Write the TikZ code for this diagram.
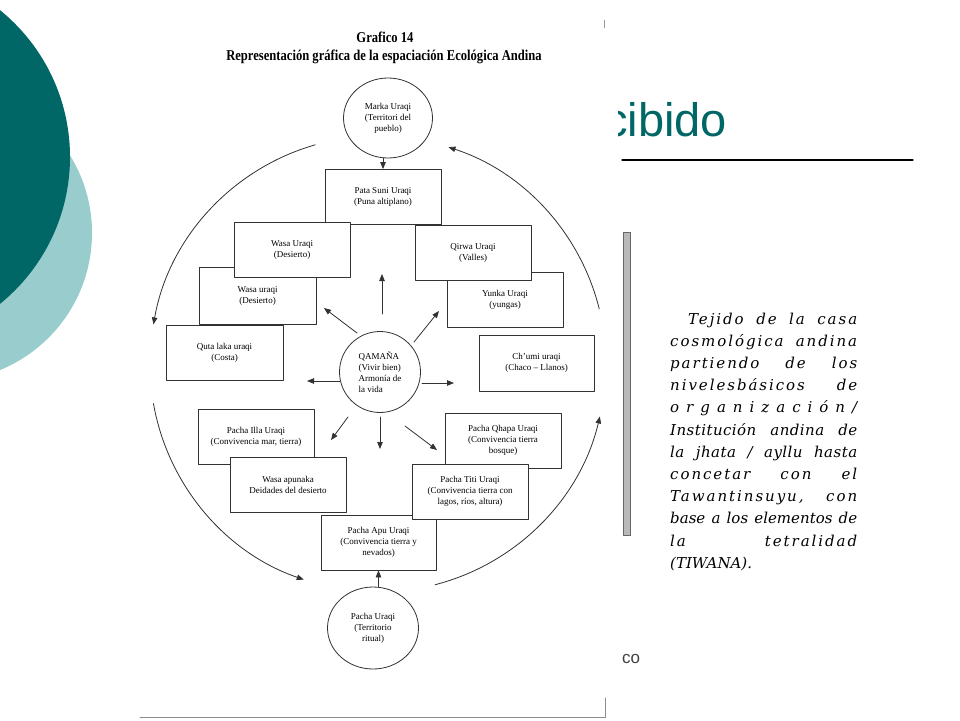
\documentclass[tikz,border=0pt]{standalone}
\usepackage{fontspec}
\usetikzlibrary{arrows.meta,shapes.geometric}
\newfontfamily\escaneo{Liberation Serif}
\newfontfamily\diapo{Liberation Sans}
\newfontfamily\tejido{DejaVu Serif}
\newfontfamily\tejidoancho{DejaVu Serif}[LetterSpace=13]
\newfontfamily\tejidojusto{DejaVu Serif}[LetterSpace=3]
\definecolor{tealoscuro}{RGB}{0,102,102}
\definecolor{tealclaro}{RGB}{153,204,204}
\definecolor{trazo}{RGB}{50,50,50}

\tikzset{
  zona/.style={draw=trazo, fill=white, line width=0.8pt, minimum width=116, minimum height=55,
    align=center, inner sep=1pt, font=\escaneo\fontsize{9}{11}\selectfont},
  lugar/.style={zona, ellipse, minimum width=89, minimum height=80},
  flecha/.style={draw=trazo, line width=0.8pt, -{Triangle[length=7pt,width=5.5pt]}},
  renglon/.style={anchor=base west, inner sep=0pt, text=black,
    font=\tejidoancho\itshape\fontsize{15}{17}\selectfont},
}

\begin{document}
\begin{tikzpicture}[x=1pt,y=-1pt,line cap=round,line join=round]
\useasboundingbox (0,0) rectangle (960,720);
% decoracion de la diapositiva
\fill[tealclaro] (-56,233) circle[radius=148pt];
\fill[tealoscuro] (-119,157) circle[radius=189pt];
\node[anchor=base west, inner sep=0pt, text=tealoscuro, font=\diapo\fontsize{47}{50}\selectfont] (encabezado) at (604,136) {cibido};
\draw[line width=1.2pt] (622,160) -- (913,160);
\node[anchor=base west, inner sep=0pt, text=black!75, font=\diapo\fontsize{17}{20}\selectfont] (pie) at (622,663) {co};
% texto de la derecha
\filldraw[fill=gray!55, draw=black!60] (623,232) rectangle (630,535);
\node[renglon] (r1) at (688,324.0) {\makebox[169pt][s]{Tejido de la casa}};
\node[renglon] (r2) at (670,346.2) {\makebox[187pt][s]{cosmológica andina}};
\node[renglon] (r3) at (670,368.4) {\makebox[187pt][s]{partiendo de los}};
\node[renglon] (r4) at (670,390.6) {\makebox[187pt][s]{nivelesbásicos de}};
\node[renglon, font=\tejido\itshape\fontsize{15}{17}\selectfont] (r5) at (670,412.8) {\makebox[187pt][s]{o r g a n i z a c i ó n /}};
\node[renglon, font=\tejidojusto\itshape\fontsize{15}{17}\selectfont] (r6) at (670,435.0) {\makebox[187pt][s]{Institución andina de}};
\node[renglon, font=\tejidojusto\itshape\fontsize{15}{17}\selectfont] (r7) at (670,457.2) {\makebox[187pt][s]{la jhata / ayllu hasta}};
\node[renglon] (r8) at (670,479.4) {\makebox[187pt][s]{concetar con el}};
\node[renglon] (r9) at (670,501.6) {\makebox[187pt][s]{Tawantinsuyu, con}};
\node[renglon, font=\tejido\itshape\fontsize{15}{17}\selectfont] (r10) at (670,523.8) {\makebox[187pt][s]{base a los elementos de}};
\node[renglon] (r11) at (670,546.0) {\makebox[187pt][s]{la tetralidad}};
\node[renglon, font=\tejido\itshape\fontsize{15}{17}\selectfont] (r12) at (670,568.2) {(TIWANA).};
% hoja escaneada
\fill[white] (140,15) rectangle (618,716);
\draw[black!45, line width=0.8pt] (140,717) -- (605,717) -- (605,698);
\draw[black!40] (604,20) -- (604,28);
\node[font=\escaneo\bfseries\fontsize{15}{17}\selectfont] (titulo) at (385,37) {\scalebox{0.84}[1]{Grafico 14}};
\node[font=\escaneo\bfseries\fontsize{15}{17}\selectfont] (subtitulo) at (384,57) {\scalebox{0.84}[1]{Representación gráfica de la espaciación Ecológica Andina}};
% rueda
\coordinate (rueda) at (378,364);
\foreach \a/\b in {106/170, 14/72, 190/251, 284.5/346.7}
  \draw[flecha] (rueda) ++(\a:228pt) arc[start angle=\a, end angle=\b, radius=228pt];
% pisos ecologicos
\node[zona] (pata) at (383,197) {Pata Suni Uraqi\\(Puna altiplano)};
\node[zona, minimum width=117, minimum height=57] (wasaB) at (257.5,295.5) {Wasa uraqi\\(Desierto)};
\node[zona] (wasaA) at (292,250) {Wasa Uraqi\\(Desierto)};
\node[zona] (yunka) at (505,300) {Yunka Uraqi\\(yungas)};
\node[zona] (qirwa) at (473,253) {Qirwa Uraqi\\(Valles)};
\node[zona, minimum width=117] (quta) at (224.5,352.5) {Quta laka uraqi\\(Costa)};
\node[zona, minimum width=115, minimum height=56] (chumi) at (536.5,363) {Ch’umi uraqi\\(Chaco – Llanos)};
\node[zona] (illa) at (256,436.5) {Pacha Illa Uraqi\\(Convivencia mar, tierra)};
\node[zona] (apunaka) at (288,484.5) {Wasa apunaka\\Deidades del desierto};
\node[zona] (qhapa) at (503,440.5) {Pacha Qhapa Uraqi\\(Convivencia tierra\\bosque)};
\node[zona, minimum width=115] (apu) at (378.5,542.5) {Pacha Apu Uraqi\\(Convivencia tierra y\\nevados)};
\node[zona] (titi) at (470,491.5) {Pacha Titi Uraqi\\(Convivencia tierra con\\lagos, ríos, altura)};
% territorios
\node[lugar] (marka) at (388,118) {Marka Uraqi\\(Territori del\\pueblo)};
\node[lugar, minimum width=91, minimum height=82] (pacha) at (373,628) {Pacha Uraqi\\(Territorio\\ritual)};
\node[lugar, circle, minimum size=81, align=left] (qamana) at (380,372) {QAMAÑA\\(Vivir bien)\\Armonía de\\la vida};
\draw[flecha] (pata.north |- marka.south) -- (pata.north);
\draw[flecha] (apu.south |- pacha.north) -- (apu.south);
% flechas del centro
\foreach \ax/\ay/\bx/\by in {2/-58/2/-98, -23/-39/-56/-64, 34/-30/59/-61, -40/9/-73/9,
    42/11/74/11, -32/45/-49/68, 0/45/0/77, 25/54/57/78}
  \draw[flecha] ([shift={(\ax,\ay)}]qamana.center) -- ([shift={(\bx,\by)}]qamana.center);
\end{tikzpicture}
\end{document}
